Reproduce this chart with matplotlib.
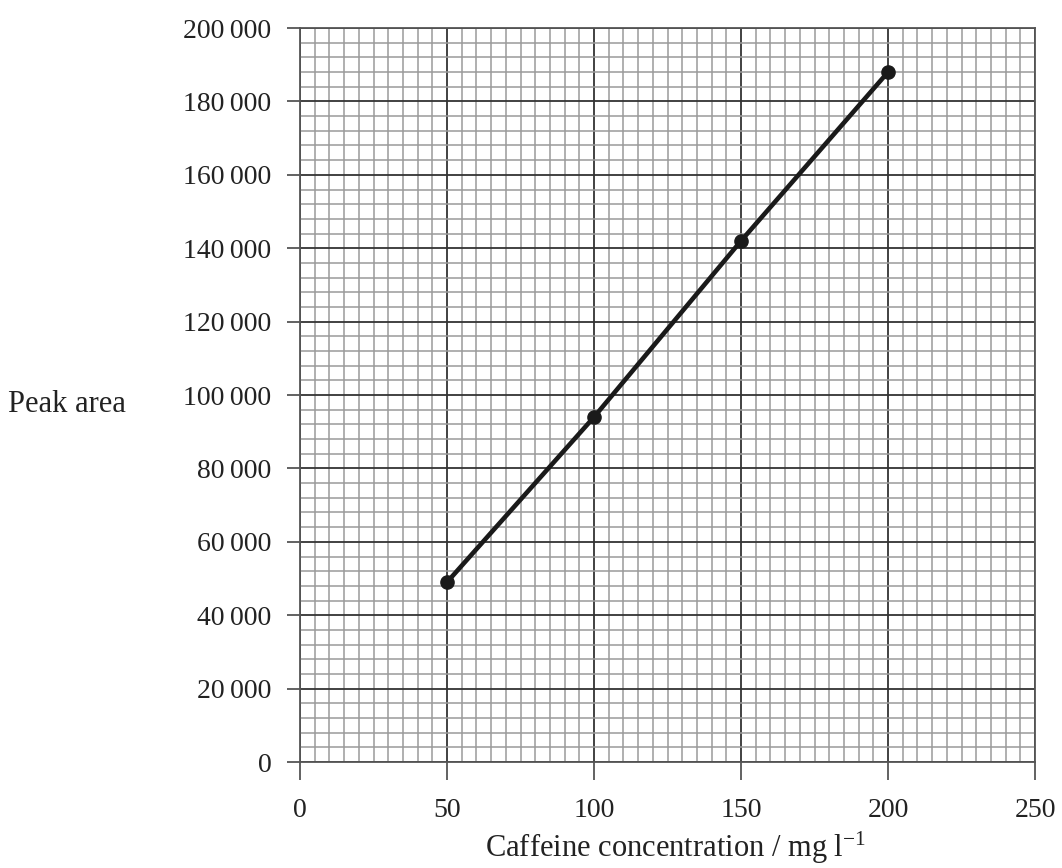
import matplotlib
matplotlib.use("Agg")
import matplotlib.pyplot as plt
import numpy as np
from matplotlib.ticker import MultipleLocator, FuncFormatter

# calibration data
conc = [50, 100, 150, 200]
peak_area = [49000, 94000, 142000, 188000]

x_ticks = [0, 50, 100, 150, 200, 250]
y_ticks = [0, 20000, 40000, 60000, 80000, 100000, 120000, 140000, 160000, 180000, 200000]

plt.rcParams['font.family'] = ['Liberation Serif', 'DejaVu Serif']
plt.rcParams['mathtext.fontset'] = 'custom'
plt.rcParams['mathtext.rm'] = 'Liberation Serif'
plt.rcParams['mathtext.default'] = 'rm'


def thousands(v, pos):
    return f"{int(v):,}".replace(",", "\u2009")


fig = plt.figure(figsize=(10.62, 8.68), dpi=100)
ax = fig.add_axes([0.2825, 0.1221, 0.6921, 0.8456])

ax.set_xlim(0, 250)
ax.set_ylim(0, 200000)

ax.set_xticks(x_ticks)
ax.set_yticks(y_ticks)
ax.xaxis.set_minor_locator(MultipleLocator(5))
ax.yaxis.set_minor_locator(MultipleLocator(4000))
ax.yaxis.set_major_formatter(FuncFormatter(thousands))

# graph paper
ax.grid(which="minor", color="#9a9a9a", linewidth=1.1)
ax.grid(which="major", color="#333333", linewidth=1.3)
ax.set_axisbelow(True)

ax.tick_params(which="minor", length=0)
ax.tick_params(axis="x", which="major", direction="out", length=13, width=1.3,
               color="#555555", labelsize=20, pad=13, labelcolor="#222222")
ax.tick_params(axis="y", which="major", direction="out", length=9.5, width=1.3,
               color="#555555", labelsize=20, pad=11, labelcolor="#222222")
for s in ax.spines.values():
    s.set_color("#555555")
    s.set_linewidth(1.3)

ax.plot(conc, peak_area, color="#1a1a1a", linewidth=3.3, marker="o",
        markersize=9.5, solid_capstyle="round")

fig.text(0.6365, 0.0127, "Caffeine concentration / mg l$^{-1}$", fontsize=22,
         color="#222222", ha="center", va="baseline")
fig.text(0.008, 0.534, "Peak area", fontsize=22, color="#222222", va="center")

fig.savefig("out.png", dpi=100)
